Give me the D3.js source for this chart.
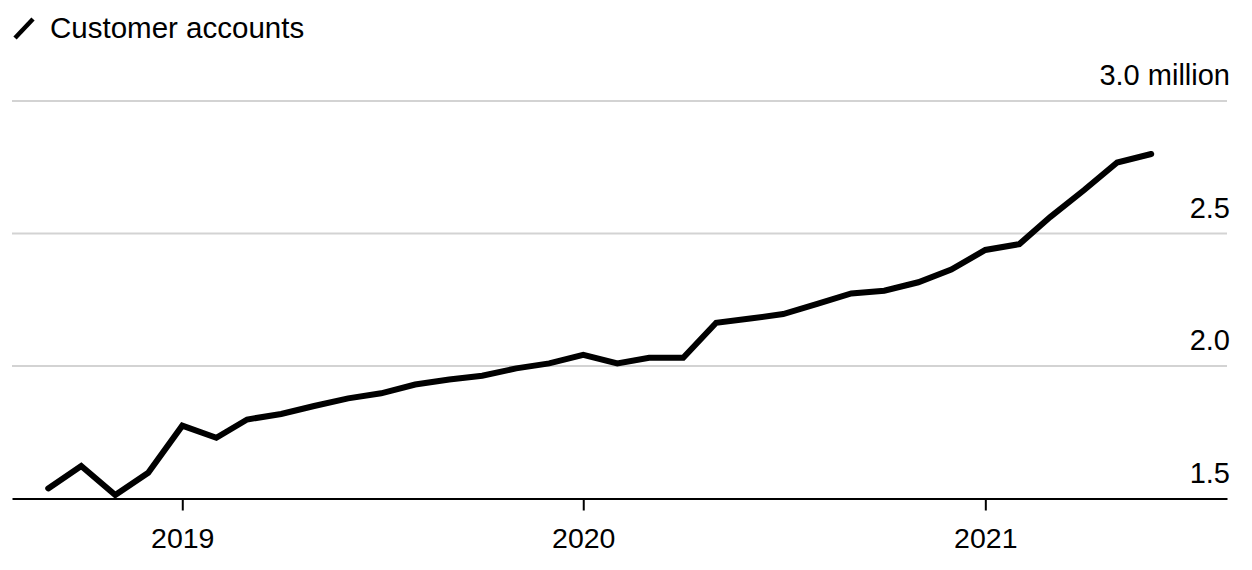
<!DOCTYPE html>
<html>
<head>
<meta charset="utf-8">
<script src="https://cdn.jsdelivr.net/npm/d3@7"></script>
<style>
  html, body { margin: 0; padding: 0; background: #fff; }
  svg { display: block; font-family: "Liberation Sans", Arial, Helvetica, sans-serif; }
</style>
</head>
<body>
<svg id="chart" width="1252" height="570"></svg>
<script>
// ---- Data ----
const months = [
  "2018-09","2018-10","2018-11","2018-12",
  "2019-01","2019-02","2019-03","2019-04","2019-05","2019-06",
  "2019-07","2019-08","2019-09","2019-10","2019-11","2019-12",
  "2020-01","2020-02","2020-03","2020-04","2020-05","2020-06",
  "2020-07","2020-08","2020-09","2020-10","2020-11","2020-12",
  "2021-01","2021-02","2021-03","2021-04","2021-05","2021-06"
];
const accounts = [
  1.538, 1.623, 1.513, 1.597,
  1.775, 1.729, 1.798, 1.819, 1.849, 1.878,
  1.897, 1.930, 1.949, 1.963, 1.991, 2.010,
  2.042, 2.010, 2.031, 2.031, 2.163, 2.179,
  2.196, 2.234, 2.274, 2.284, 2.316, 2.364,
  2.438, 2.460, 2.562, 2.664, 2.768, 2.800
];
const yTicks = [1.5, 2.0, 2.5, 3.0];
const yTickLabels = ["1.5", "2.0", "2.5", "3.0 million"];
const xTickYears = ["2019", "2020", "2021"];
const title = "Customer accounts";

// ---- Setup ----
const svg = d3.select("#chart");
const parse = d3.timeParse("%Y-%m");
const data = months.map((m, i) => ({ date: parse(m), value: accounts[i] }));

const plotLeft = 12, plotRight = 1227, plotTop = 101, plotBottom = 498.5;

const x = d3.scaleTime()
  .domain([new Date(2018, 6, 30), new Date(2021, 7, 9)])
  .range([plotLeft, plotRight]);
const y = d3.scaleLinear()
  .domain([1.5, 3.0])
  .range([plotBottom, plotTop]);

// Gridlines (excluding baseline)
svg.append("g").selectAll("line")
  .data(yTicks.filter(t => t !== 1.5))
  .join("line")
  .attr("x1", plotLeft).attr("x2", plotRight)
  .attr("y1", d => y(d)).attr("y2", d => y(d))
  .attr("stroke", "#d3d3d3")
  .attr("stroke-width", 2);

// Y labels
svg.append("g").selectAll("text")
  .data(yTicks)
  .join("text")
  .attr("x", plotRight + 3)
  .attr("y", d => y(d) - 16)
  .attr("text-anchor", "end")
  .attr("font-size", 29)
  .attr("fill", "#000")
  .text((d, i) => yTickLabels[i]);

// X axis
const xAxis = d3.axisBottom(x)
  .tickValues(xTickYears.map(s => d3.timeParse("%Y")(s)))
  .tickFormat(d3.timeFormat("%Y"))
  .tickSizeInner(12)
  .tickSizeOuter(0)
  .tickPadding(17);
const gx = svg.append("g")
  .attr("transform", `translate(0,${plotBottom})`)
  .call(xAxis);
gx.select(".domain").attr("stroke", "#000").attr("stroke-width", 2);
gx.selectAll(".tick line").attr("stroke", "#000").attr("stroke-width", 2);
gx.selectAll(".tick text")
  .attr("font-size", 28.5)
  .attr("font-family", "Liberation Sans, Arial, sans-serif")
  .attr("fill", "#000");

// Line
const line = d3.line()
  .x(d => x(d.date))
  .y(d => y(d.value));
svg.append("path")
  .datum(data)
  .attr("d", line)
  .attr("fill", "none")
  .attr("stroke", "#000")
  .attr("stroke-width", 6)
  .attr("stroke-linecap", "round")
  .attr("stroke-linejoin", "miter");

// Legend/title
svg.append("line")
  .attr("x1", 15).attr("y1", 38)
  .attr("x2", 33).attr("y2", 19)
  .attr("stroke", "#000")
  .attr("stroke-width", 4.5);
svg.append("text")
  .attr("x", 50)
  .attr("y", 38)
  .attr("font-size", 29.5)
  .attr("fill", "#000")
  .text(title);
</script>
</body>
</html>
